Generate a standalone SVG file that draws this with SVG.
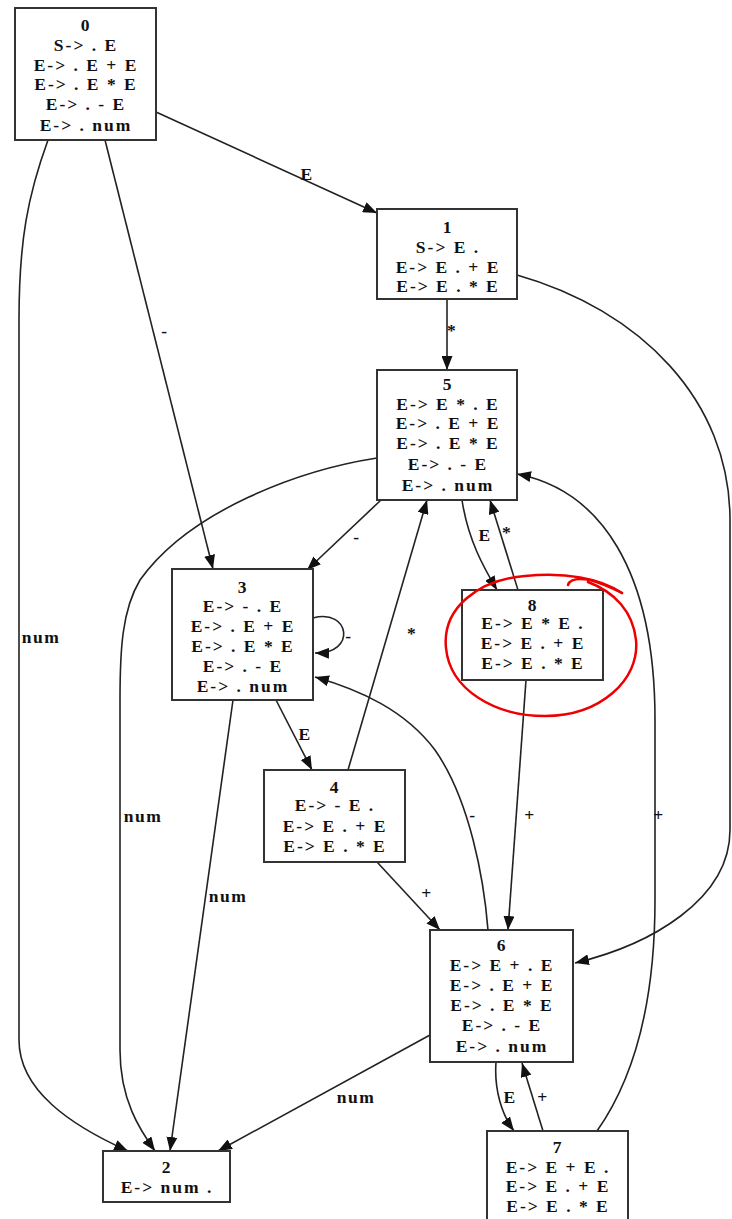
<svg xmlns="http://www.w3.org/2000/svg" width="732" height="1219" viewBox="0 0 732 1219">
<style>
.box{fill:#fff;stroke:#333;stroke-width:2}
.t{font-family:"Liberation Serif","DejaVu Serif",serif;font-weight:bold;font-size:17.5px;letter-spacing:2px;fill:#111;text-anchor:middle}
.e{fill:none;stroke:#222;stroke-width:1.6;marker-end:url(#ah)}
.l{font-family:"Liberation Serif","DejaVu Serif",serif;font-weight:bold;font-size:17.5px;letter-spacing:1.5px;fill:#111;text-anchor:middle}
.red{fill:none;stroke:#e00;stroke-width:2.5;stroke-linecap:round}
</style>
<defs>
<marker id="ah" markerUnits="userSpaceOnUse" markerWidth="14" markerHeight="11" viewBox="0 0 14 11" refX="14" refY="5.5" orient="auto">
<path d="M0,0 L14,5.5 L0,11 z" fill="#111"/>
</marker>
</defs>
<rect width="732" height="1219" fill="#fff"/>
<g id="edges">
<path class="e" d="M156,112 L377,213"/>
<path class="e" d="M105,140 L213,569"/>
<path class="e" d="M48,140 C28,195 19,240 19,320 L19,1040 C19,1090 70,1125 128,1151"/>
<path class="e" d="M447,299 L447,370"/>
<path class="e" d="M517,275 C640,310 730,400 730,520 L730,830 C730,900 650,945 575,963"/>
<path class="e" d="M381,500 L307,570"/>
<path class="e" d="M377,458 C300,470 190,510 140,580 C122,610 120,650 120,700 L120,1050 C120,1100 140,1130 155,1151"/>
<path class="e" d="M462,500 C468,540 484,568 497,590"/>
<path class="e" d="M518,590 L490,500"/>
<path class="e" d="M313,618 C350,608 357,654 315,653"/>
<path class="e" d="M276,700 L312,770"/>
<path class="e" d="M233,700 L170,1151"/>
<path class="e" d="M348,770 L427,500"/>
<path class="e" d="M377,862 L440,930"/>
<path class="e" d="M526,680 L508,930"/>
<path class="e" d="M488,930 C484,880 470,800 435,750 C405,710 360,690 315,677"/>
<path class="e" d="M430,1035 L218,1151"/>
<path class="e" d="M496,1062 C494,1090 502,1115 514,1131"/>
<path class="e" d="M543,1131 L522,1063"/>
<path class="e" d="M597,1131 C640,1070 655,990 655,900 L655,720 C655,570 600,490 517,474"/>
</g>
<g id="edge-labels">
<text class="l" x="307" y="180">E</text>
<text class="l" x="165" y="337">-</text>
<text class="l" x="41" y="643">num</text>
<text class="l" x="452" y="336">*</text>
<text class="l" x="357" y="543">-</text>
<text class="l" x="143" y="822">num</text>
<text class="l" x="228" y="902">num</text>
<text class="l" x="305" y="740">E</text>
<text class="l" x="412" y="639">*</text>
<text class="l" x="427" y="899">+</text>
<text class="l" x="530" y="821">+</text>
<text class="l" x="473" y="821">-</text>
<text class="l" x="356" y="1103">num</text>
<text class="l" x="510" y="1103">E</text>
<text class="l" x="543" y="1103">+</text>
<text class="l" x="659" y="821">+</text>
<text class="l" x="485" y="541">E</text>
<text class="l" x="507" y="538">*</text>
<text class="l" x="349" y="642">-</text>
</g>
<g id="node0">
<rect class="box" x="15" y="8" width="141" height="132"/>
<text class="t" x="86" y="31">0</text>
<text class="t" x="86" y="51">S-&gt; . E</text>
<text class="t" x="86" y="71">E-&gt; . E + E</text>
<text class="t" x="86" y="90">E-&gt; . E * E</text>
<text class="t" x="86" y="110">E-&gt; . - E</text>
<text class="t" x="86" y="131">E-&gt; . num</text>
</g>
<g id="node1">
<rect class="box" x="377" y="209" width="140" height="90"/>
<text class="t" x="448" y="233">1</text>
<text class="t" x="448" y="253">S-&gt; E .</text>
<text class="t" x="448" y="273">E-&gt; E . + E</text>
<text class="t" x="448" y="292">E-&gt; E . * E</text>
</g>
<g id="node5">
<rect class="box" x="377" y="370" width="140" height="130"/>
<text class="t" x="448" y="390">5</text>
<text class="t" x="448" y="410">E-&gt; E * . E</text>
<text class="t" x="448" y="429">E-&gt; . E + E</text>
<text class="t" x="448" y="449">E-&gt; . E * E</text>
<text class="t" x="448" y="470">E-&gt; . - E</text>
<text class="t" x="448" y="491">E-&gt; . num</text>
</g>
<g id="node3">
<rect class="box" x="172" y="569" width="141" height="131"/>
<text class="t" x="243" y="593">3</text>
<text class="t" x="243" y="612">E-&gt; - . E</text>
<text class="t" x="243" y="632">E-&gt; . E + E</text>
<text class="t" x="243" y="652">E-&gt; . E * E</text>
<text class="t" x="243" y="672">E-&gt; . - E</text>
<text class="t" x="243" y="692">E-&gt; . num</text>
</g>
<g id="node8">
<rect class="box" x="462" y="590" width="141" height="90"/>
<text class="t" x="533" y="611">8</text>
<text class="t" x="533" y="629">E-&gt; E * E .</text>
<text class="t" x="533" y="649">E-&gt; E . + E</text>
<text class="t" x="533" y="669">E-&gt; E . * E</text>
</g>
<g id="node4">
<rect class="box" x="264" y="770" width="141" height="92"/>
<text class="t" x="335" y="793">4</text>
<text class="t" x="335" y="811">E-&gt; - E .</text>
<text class="t" x="335" y="832">E-&gt; E . + E</text>
<text class="t" x="335" y="852">E-&gt; E . * E</text>
</g>
<g id="node6">
<rect class="box" x="430" y="930" width="143" height="132"/>
<text class="t" x="502" y="951">6</text>
<text class="t" x="502" y="971">E-&gt; E + . E</text>
<text class="t" x="502" y="991">E-&gt; . E + E</text>
<text class="t" x="502" y="1011">E-&gt; . E * E</text>
<text class="t" x="502" y="1031">E-&gt; . - E</text>
<text class="t" x="502" y="1052">E-&gt; . num</text>
</g>
<g id="node7">
<rect class="box" x="487" y="1131" width="141" height="95"/>
<text class="t" x="558" y="1153">7</text>
<text class="t" x="558" y="1173">E-&gt; E + E .</text>
<text class="t" x="558" y="1192">E-&gt; E . + E</text>
<text class="t" x="558" y="1212">E-&gt; E . * E</text>
</g>
<g id="node2">
<rect class="box" x="103" y="1151" width="127" height="51"/>
<text class="t" x="167" y="1173">2</text>
<text class="t" x="167" y="1193">E-&gt; num .</text>
</g>
<g id="annotation">
<path class="red" d="M622,593 C600,578 565,572 525,576 C478,580 442,608 446,648 C450,690 495,716 545,716 C600,716 640,680 636,640 C633,612 615,592 588,582"/>
<path class="red" d="M568,585 C570,579 578,578 590,580 C602,583 612,588 622,593"/>
</g>
</svg>
